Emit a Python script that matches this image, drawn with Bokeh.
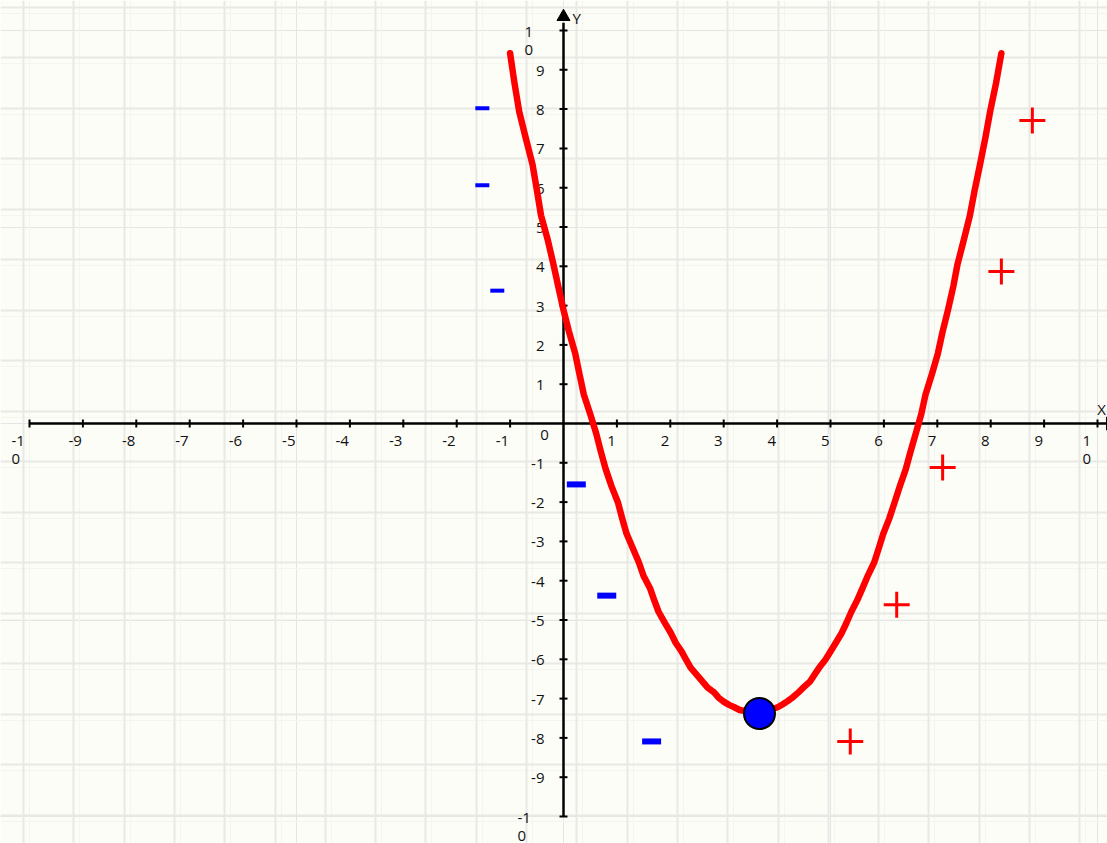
from bokeh.plotting import figure
from bokeh.models import Range1d, FixedTicker, Grid
from bokeh.core.properties import value
from bokeh.embed import file_html
from bokeh.resources import INLINE
import math

# ---------------- data ----------------
curve_x = [-1.0, -0.92, -0.83, -0.71, -0.58, -0.5, -0.42, -0.3, -0.19, -0.1, 0.0,
           0.1, 0.22, 0.3, 0.38, 0.5, 0.61, 0.7, 0.79, 0.9, 1.02, 1.1, 1.18, 1.3,
           1.41, 1.5, 1.62, 1.7, 1.78, 1.9, 2.01, 2.1, 2.21, 2.3, 2.38, 2.5, 2.6,
           2.7, 2.82, 2.9, 2.99, 3.1, 3.2, 3.3, 3.41, 3.6, 3.8, 3.9, 4.01, 4.1,
           4.19, 4.3, 4.4, 4.5, 4.62, 4.7, 4.79, 4.9, 5.0, 5.1, 5.21, 5.3, 5.39,
           5.5, 5.6, 5.7, 5.82, 5.9, 5.99, 6.1, 6.2, 6.3, 6.41, 6.5, 6.6, 6.7,
           6.78, 6.9, 7.01, 7.1, 7.2, 7.3, 7.38, 7.5, 7.61, 7.7, 7.8, 7.9, 7.99,
           8.1, 8.2]
curve_y = [9.42, 8.68, 7.94, 7.28, 6.59, 5.95, 5.29, 4.70, 4.06, 3.50, 2.89,
           2.35, 1.78, 1.25, 0.74, 0.24, -0.24, -0.72, -1.16, -1.60, -2.01, -2.42,
           -2.80, -3.18, -3.53, -3.88, -4.19, -4.50, -4.79, -5.08, -5.33, -5.58,
           -5.80, -6.02, -6.21, -6.40, -6.56, -6.72, -6.84, -6.97, -7.07, -7.16,
           -7.22, -7.29, -7.32, -7.35, -7.32, -7.27, -7.22, -7.15, -7.07, -6.96,
           -6.84, -6.71, -6.56, -6.39, -6.21, -6.02, -5.80, -5.58, -5.33, -5.07,
           -4.79, -4.50, -4.19, -3.87, -3.53, -3.19, -2.80, -2.42, -2.01, -1.59,
           -1.16, -0.71, -0.24, 0.24, 0.74, 1.26, 1.78, 2.34, 2.89, 3.49, 4.06,
           4.69, 5.29, 5.94, 6.59, 7.27, 7.94, 8.66, 9.42]

vertex_x = [3.67]
vertex_y = [-7.38]

plus_x = [8.78, 8.20, 7.10, 6.24, 5.37]
plus_y = [7.71, 3.87, -1.12, -4.61, -8.09]

minus_x = [-1.52, -1.52, -1.24, 0.24, 0.81, 1.65]
minus_y = [8.02, 6.06, 3.38, -1.55, -4.38, -8.09]

x_ticks = [-10, -9, -8, -7, -6, -5, -4, -3, -2, -1, 1, 2, 3, 4, 5, 6, 7, 8, 9, 10]
y_ticks = [-10, -9, -8, -7, -6, -5, -4, -3, -2, -1, 1, 2, 3, 4, 5, 6, 7, 8, 9, 10]
x_tick_labels = ["-1\n0", "-9", "-8", "-7", "-6", "-5", "-4", "-3", "-2", "-1",
                 "1", "2", "3", "4", "5", "6", "7", "8", "9", "1\n0"]
y_tick_labels = ["-1\n0", "-9", "-8", "-7", "-6", "-5", "-4", "-3", "-2", "-1",
                 "1", "2", "3", "4", "5", "6", "7", "8", "9", "1\n0"]
axis_min = -10
x_axis_max = 10.24
y_axis_max = 10.2
arrow_y = 10.35

# ---------------- styles ----------------
minus_w = [14, 14, 14, 19, 19, 19]
minus_h = [4, 4, 4, 6, 6, 6]
FONT = value("Open Sans")
FS = "15px"
LH = 0.93
TXT = "#111111"
BG = "#fdfdf8"

# pixel geometry of the frame
PX_X = 53.4   # px per x unit
PX_Y = 39.3   # px per y unit
W, H = 1107, 843
ox, oy = 563.0, 423.0  # origin inside frame (px)

x0 = -ox / PX_X
x1 = (W - ox) / PX_X
y1 = oy / PX_Y
y0 = -(H - oy) / PX_Y

p = figure(width=W, height=H, x_range=Range1d(x0, x1), y_range=Range1d(y0, y1),
           output_backend="svg", toolbar_location=None,
           x_axis_location=None, y_axis_location=None, min_border=0,
           background_fill_color=BG, border_fill_color=BG,
           outline_line_color=None)

# paper grid (every ~50 px)
gx = [(23 + 50.3 * k - ox) / PX_X for k in range(22)]
gy = [(oy - (6.5 + 50.5 * k)) / PX_Y for k in range(17)]
gx2 = [(29 + 50.3 * k - ox) / PX_X for k in range(22)]
gy2 = [(oy - (12.5 + 50.5 * k)) / PX_Y for k in range(17)]
p.add_layout(Grid(dimension=0, ticker=FixedTicker(ticks=gx2),
                  grid_line_color="#f5f5f0", grid_line_width=1))
p.add_layout(Grid(dimension=1, ticker=FixedTicker(ticks=gy2),
                  grid_line_color="#f5f5f0", grid_line_width=1))
p.add_layout(Grid(dimension=0, ticker=FixedTicker(ticks=gx),
                  grid_line_color="#e8e8e4", grid_line_width=2))
p.add_layout(Grid(dimension=1, ticker=FixedTicker(ticks=gy),
                  grid_line_color="#e8e8e4", grid_line_width=2))

# axes
p.segment(x0=[axis_min], y0=[0], x1=[x_axis_max], y1=[0], line_color="black", line_width=2.5)
p.segment(x0=[0], y0=[axis_min], x1=[0], y1=[y_axis_max], line_color="black", line_width=2.5)
p.scatter(x=[0], y=[arrow_y], marker="triangle", size=13, fill_color="black", line_color="black")
p.scatter(x=[x_axis_max], y=[0], marker="triangle", angle=-math.pi / 2, size=13,
          fill_color="black", line_color="black")
p.text(x=[0], y=[arrow_y], text=["Y"], x_offset=9, y_offset=1, text_baseline="middle",
       text_align="left", text_font=FONT, text_font_size=FS, text_color=TXT)
p.text(x=[10], y=[0], text=["X"], x_offset=4, y_offset=-15, text_baseline="middle",
       text_align="center", text_font=FONT, text_font_size=FS, text_color=TXT)

# ticks
p.scatter(x=x_ticks, y=[0] * len(x_ticks), marker="dash", angle=math.pi / 2, size=8,
          line_color="black", line_width=2)
p.scatter(x=[0] * len(y_ticks), y=y_ticks, marker="dash", size=8,
          line_color="black", line_width=2)

# x tick labels
sx = [(x, t) for x, t in zip(x_ticks, x_tick_labels) if "\n" not in t]
p.text(x=[s[0] for s in sx], y=[0] * len(sx), text=[s[1] for s in sx], x_offset=-1, y_offset=17,
       text_align="right", text_baseline="middle", text_font=FONT, text_font_size=FS, text_color=TXT)
mx = [(x, t) for x, t in zip(x_ticks, x_tick_labels) if "\n" in t]
p.text(x=[s[0] for s in mx], y=[0] * len(mx), text=[s[1] for s in mx], x_offset=[-18, -15], y_offset=6,
       text_align="left", text_baseline="top", text_line_height=LH,
       text_font=FONT, text_font_size=FS, text_color=TXT)
# origin label
p.text(x=[0], y=[0], text=["0"], x_offset=-19, y_offset=11, text_align="center",
       text_baseline="middle", text_font=FONT, text_font_size=FS, text_color=TXT)

# y tick labels
sy = [(y, t) for y, t in zip(y_ticks, y_tick_labels) if "\n" not in t]
p.text(x=[0] * len(sy), y=[s[0] for s in sy], text=[s[1] for s in sy], x_offset=-19, y_offset=1,
       text_align="right", text_baseline="middle", text_font=FONT, text_font_size=FS, text_color=TXT)
my = [(y, t) for y, t in zip(y_ticks, y_tick_labels) if "\n" in t]
p.text(x=[0] * len(my), y=[s[0] for s in my], text=[s[1] for s in my], x_offset=[-46, -39], y_offset=-10,
       text_align="left", text_baseline="top", text_line_height=LH,
       text_font=FONT, text_font_size=FS, text_color=TXT)

# parabola
p.line(curve_x, curve_y, line_color="#ff0000", line_width=6.5, line_join="round", line_cap="round")

# markers
p.scatter(x=plus_x, y=plus_y, marker="cross", size=26, line_color="#ff0000", line_width=3)
p.rect(x=minus_x, y=minus_y, width=minus_w, height=minus_h, width_units="screen",
       height_units="screen", fill_color="#0000ff", line_color=None)
p.scatter(x=vertex_x, y=vertex_y, marker="circle", size=31, fill_color="#0000ff",
          line_color="black", line_width=2)

open("out.html", "w").write(file_html(p, INLINE))
